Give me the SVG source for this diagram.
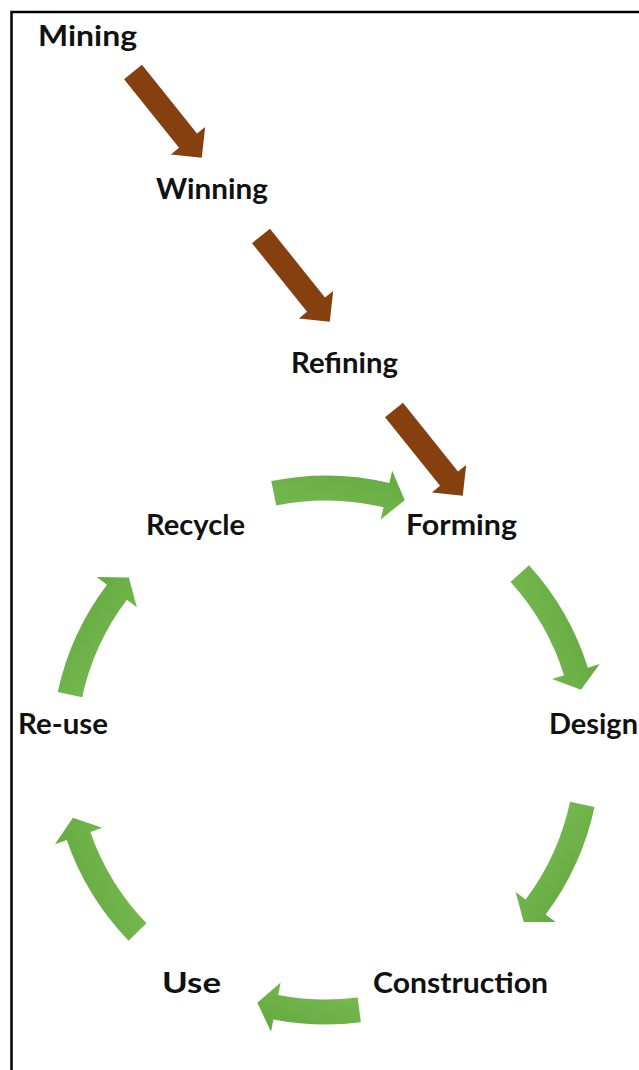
<svg xmlns="http://www.w3.org/2000/svg" width="639" height="1070" viewBox="0 0 639 1070">
<style>
.lbl{font-family:Lato,"Open Sans","Liberation Sans",sans-serif;font-weight:700;font-size:29px;fill:#111}
.brown{fill:#86400F}
.green{fill:url(#gg)}
</style>
<defs>
<linearGradient id="gg" x1="0" y1="0" x2="1" y2="1">
<stop offset="0" stop-color="#7BBD57"/>
<stop offset="1" stop-color="#62A83D"/>
</linearGradient>
<path id="barrow" d="M0,-11.5 H88 V-22 L110,0 L88,22 V11.5 H0 Z"/>
<path id="garc29" d="M274.5,0 A274.5,274.5 0 0 1 249.08,115.32 L260.42,120.57 L229.15,127.02 L215.05,99.56 L226.4,104.81 A249.5,249.5 0 0 0 249.5,0 Z"/>
<path id="garc22" d="M274.5,0 A274.5,274.5 0 0 1 260.56,86.39 L272.42,90.32 L242.06,100.27 L224.96,74.58 L236.83,78.52 A249.5,249.5 0 0 0 249.5,0 Z"/>
</defs>
<rect x="11.5" y="12" width="720" height="1100" fill="#fff" stroke="#000" stroke-width="2.5"/>
<g id="connectors">
<use href="#barrow" class="brown" transform="translate(133,72) rotate(51.3)"/>
<use href="#barrow" class="brown" transform="translate(261,236) rotate(51.3)"/>
<use href="#barrow" class="brown" transform="translate(394,410) rotate(51.3)"/>
<use href="#garc29" class="green" transform="translate(326,750) rotate(258.5)"/>
<use href="#garc29" class="green" transform="translate(326,750) rotate(317.7)"/>
<use href="#garc29" class="green" transform="translate(326,750) rotate(12)"/>
<use href="#garc22" class="green" transform="translate(326,750) rotate(82.7)"/>
<use href="#garc29" class="green" transform="translate(326,750) rotate(136)"/>
<use href="#garc29" class="green" transform="translate(326,750) rotate(192.2)"/>
</g>
<g id="mining"><text class="lbl" x="38" y="46" textLength="99" lengthAdjust="spacingAndGlyphs">Mining</text></g>
<g id="winning"><text class="lbl" x="156" y="199" textLength="112" lengthAdjust="spacingAndGlyphs">Winning</text></g>
<g id="refining"><text class="lbl" x="291" y="373" textLength="107" lengthAdjust="spacingAndGlyphs">Refining</text></g>
<g id="forming"><text class="lbl" x="406" y="535" textLength="111" lengthAdjust="spacingAndGlyphs">Forming</text></g>
<g id="recycle"><text class="lbl" x="146" y="535" textLength="99" lengthAdjust="spacingAndGlyphs">Recycle</text></g>
<g id="design"><text class="lbl" x="549" y="734" textLength="89" lengthAdjust="spacingAndGlyphs">Design</text></g>
<g id="reuse"><text class="lbl" x="18" y="734" textLength="90" lengthAdjust="spacingAndGlyphs">Re-use</text></g>
<g id="use"><text class="lbl" x="162" y="993" textLength="59" lengthAdjust="spacingAndGlyphs">Use</text></g>
<g id="construction"><text class="lbl" x="373" y="993" textLength="175" lengthAdjust="spacingAndGlyphs">Construction</text></g>
</svg>
